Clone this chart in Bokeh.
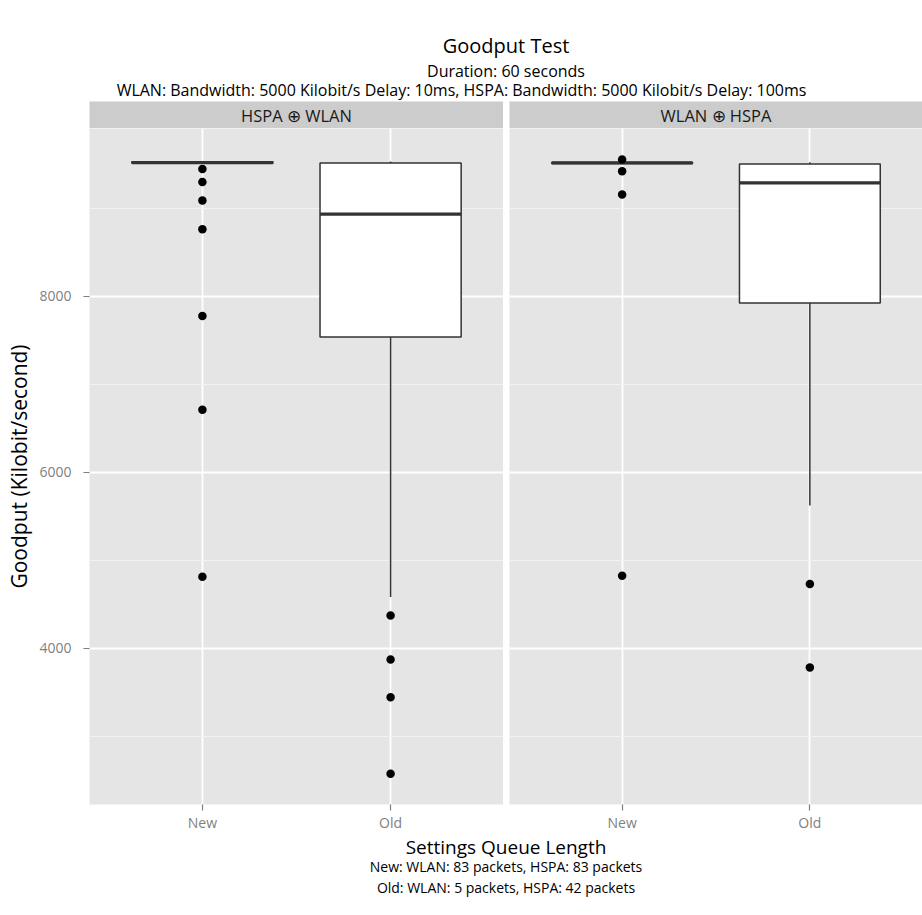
from bokeh.plotting import figure
from bokeh.layouts import column, row
from bokeh.models import Range1d, FactorRange, FixedTicker, ColumnDataSource
from bokeh.core.properties import value
from bokeh.embed import file_html
from bokeh.resources import INLINE

FONT = "Open Sans"

# ---------------- data ----------------
title_text = "Goodput Test"
subtitle_lines = [
    "Duration: 60 seconds",
    "WLAN: Bandwidth: 5000 Kilobit/s Delay: 10ms, HSPA: Bandwidth: 5000 Kilobit/s Delay: 100ms",
]
x_title = "Settings Queue Length"
caption_lines = [
    "New: WLAN: 83 packets, HSPA: 83 packets",
    "Old: WLAN: 5 packets, HSPA: 42 packets",
]
y_title = "Goodput (Kilobit/second)"

categories = ["New", "Old"]
facets = ["HSPA \u2295 WLAN", "WLAN \u2295 HSPA"]

# facet 1: HSPA + WLAN
f1_lower = [9505, 4584]
f1_q1 = [9514, 7541]
f1_median = [9522, 8935]
f1_q3 = [9530, 9517]
f1_upper = [9538, 9533]
f1_out_new = [9449, 9302, 9091, 8765, 7779, 6713, 4816]
f1_out_old = [4374, 3874, 3447, 2577]

# facet 2: WLAN + HSPA
f2_lower = [9505, 5624]
f2_q1 = [9512, 7926]
f2_median = [9518, 9290]
f2_q3 = [9524, 9506]
f2_upper = [9530, 9525]
f2_out_new = [9556, 9423, 9159, 4827]
f2_out_old = [4732, 3784]

y_ticks = [4000, 6000, 8000]
y_minor = [3000, 5000, 7000, 9000]
y_lo, y_hi = 2227, 9909

PANEL_BG = "#E5E5E5"
STRIP_BG = "#CCCCCC"
BOX_LINE = "#333333"
TICK_COL = "#7F7F7F"

LEFT_BORDER = 89
GAP = 6
FRAME_W1 = 414
FRAME_W2 = 413
FRAME_H = 676
HEADER_H = 101
STRIP_H = 27
TOTAL_W = 922
FOOTER_H = 80


def make_panel(lower, q1, med, q3, upper, out_new, out_old, left_border, frame_w, show_y):
    p = figure(
        frame_width=frame_w, frame_height=FRAME_H,
        x_range=FactorRange(factors=categories, range_padding=0.1, range_padding_units="absolute"),
        y_range=Range1d(y_lo, y_hi),
        output_backend="svg", toolbar_location=None,
        min_border_left=left_border, min_border_right=0,
        min_border_top=0, min_border_bottom=0,
    )
    p.background_fill_color = PANEL_BG
    p.border_fill_color = "white"
    p.outline_line_color = None

    # grid
    p.ygrid.ticker = FixedTicker(ticks=y_ticks, minor_ticks=y_minor)
    p.ygrid.grid_line_color = "white"
    p.ygrid.grid_line_width = 1.8
    p.ygrid.minor_grid_line_color = "#F2F2F2"
    p.ygrid.minor_grid_line_width = 1
    p.xgrid.grid_line_color = "white"
    p.xgrid.grid_line_width = 1.8

    # axes
    for ax in [p.xaxis[0], p.yaxis[0]]:
        ax.axis_line_color = None
        ax.major_tick_line_color = TICK_COL
        ax.major_tick_line_width = 1.2
        ax.major_tick_out = 6
        ax.major_tick_in = 0
        ax.minor_tick_line_color = None
        ax.major_label_text_color = TICK_COL
        ax.major_label_text_font = FONT
        ax.major_label_text_font_size = "14px"
    p.xaxis.major_label_standoff = 2
    p.yaxis.major_label_standoff = 12
    p.yaxis.ticker = FixedTicker(ticks=y_ticks)
    if show_y:
        p.yaxis.axis_label = y_title
        p.yaxis.axis_label_text_font = FONT
        p.yaxis.axis_label_text_font_size = "21px"
        p.yaxis.axis_label_text_font_style = "normal"
        p.yaxis.axis_label_text_color = "black"
        p.yaxis.axis_label_standoff = 3
    else:
        p.yaxis.visible = False

    src = ColumnDataSource(dict(x=categories, lower=lower, q1=q1, med=med, q3=q3, upper=upper))
    p.segment(x0="x", y0="q3", x1="x", y1="upper", source=src, line_color=BOX_LINE, line_width=1.5)
    p.segment(x0="x", y0="lower", x1="x", y1="q1", source=src, line_color=BOX_LINE, line_width=1.5)
    p.vbar(x="x", width=0.75, bottom="q1", top="q3", source=src,
           fill_color="white", line_color=BOX_LINE, line_width=1.5)
    p.vbar(x="x", width=0.75, bottom="med", top="med", source=src,
           fill_color=None, line_color=BOX_LINE, line_width=3.2)

    ox = [categories[0]] * len(out_new) + [categories[1]] * len(out_old)
    oy = list(out_new) + list(out_old)
    p.scatter(x=ox, y=oy, size=8.5, fill_color="black", line_color="black", line_width=0)
    return p


def make_strip(label, left_border, frame_w):
    s = figure(
        width=left_border + frame_w, height=STRIP_H,
        x_range=Range1d(0, 1), y_range=Range1d(0, 1),
        output_backend="svg", toolbar_location=None,
        x_axis_location=None, y_axis_location=None,
        min_border_left=left_border, min_border_right=0,
        min_border_top=0, min_border_bottom=0,
    )
    s.background_fill_color = STRIP_BG
    s.border_fill_color = "white"
    s.outline_line_color = None
    s.grid.visible = False
    s.text(x=[0.5], y=[0.5], text=[label], text_align="center", text_baseline="middle",
           text_font=value(FONT), text_font_size="16.5px", text_color="#1A1A1A")
    return s


def make_text_fig(height, lines, ys, sizes, xs):
    f = figure(
        width=TOTAL_W, height=height,
        x_range=Range1d(0, TOTAL_W), y_range=Range1d(height, 0),
        output_backend="svg", toolbar_location=None,
        x_axis_location=None, y_axis_location=None,
        min_border=0,
    )
    f.outline_line_color = None
    f.background_fill_color = "white"
    f.border_fill_color = "white"
    f.grid.visible = False
    for t, y, sz, x in zip(lines, ys, sizes, xs):
        f.text(x=[x], y=[y], text=[t], text_align="center", text_baseline="middle",
               text_font=value(FONT), text_font_size=sz, text_color="black")
    return f


panel_center = LEFT_BORDER + (TOTAL_W - LEFT_BORDER) / 2

header = make_text_fig(
    HEADER_H,
    [title_text] + subtitle_lines,
    [45, 70, 89],
    ["20px", "16px", "16px"],
    [panel_center, panel_center, TOTAL_W / 2],
)

strips = row(make_strip(facets[0], LEFT_BORDER, FRAME_W1), make_strip(facets[1], GAP, FRAME_W2))

p1 = make_panel(f1_lower, f1_q1, f1_median, f1_q3, f1_upper, f1_out_new, f1_out_old,
                LEFT_BORDER, FRAME_W1, True)
p2 = make_panel(f2_lower, f2_q1, f2_median, f2_q3, f2_upper, f2_out_new, f2_out_old,
                GAP, FRAME_W2, False)
panels = row(p1, p2)

footer = make_text_fig(
    FOOTER_H,
    [x_title] + caption_lines,
    [12, 32, 53],
    ["19px", "14px", "14px"],
    [panel_center, panel_center, panel_center],
)

layout = column(header, strips, panels, footer)

open("out.html", "w").write(file_html(layout, INLINE))
